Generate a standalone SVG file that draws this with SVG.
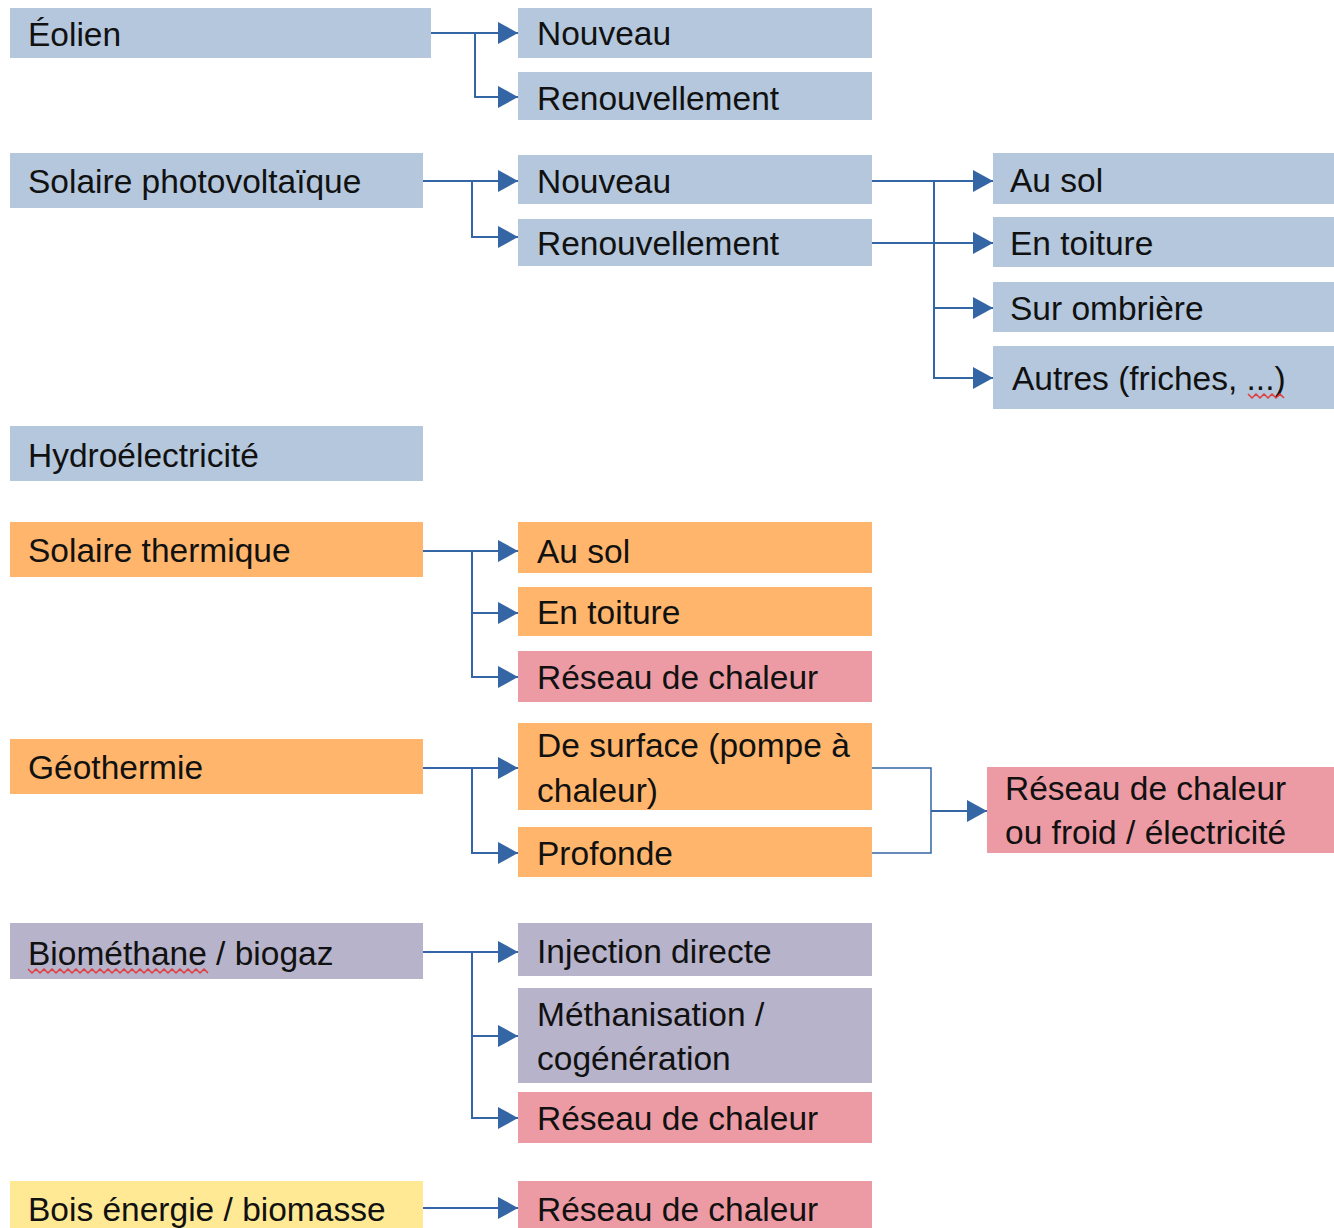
<svg xmlns="http://www.w3.org/2000/svg" width="1334" height="1228" viewBox="0 0 1334 1228">
<style>
text{font-family:"Liberation Sans",Arial,sans-serif;font-size:33.5px;fill:#111}
.b{fill:#b4c7dc}.o{fill:#ffb66c}.p{fill:#ec9ba4}.v{fill:#b7b3ca}.y{fill:#ffe994}
.c{fill:none;stroke:#3465a4;stroke-width:2}
.sq{fill:none;stroke:#e03c3c;stroke-width:1.5}
</style>
<defs>
<marker id="ar" markerUnits="userSpaceOnUse" markerWidth="20" markerHeight="22" refX="20" refY="11" orient="auto">
<path d="M0,0 L20,11 L0,22 z" fill="#3465a4"/>
</marker>
</defs>
<rect width="1334" height="1228" fill="#fff"/>
<g id="connectors">
<path class="c" d="M431,33 H518" marker-end="url(#ar)"/>
<path class="c" d="M475,33 V97 H518" marker-end="url(#ar)"/>
<path class="c" d="M423,181 H518" marker-end="url(#ar)"/>
<path class="c" d="M472,181 V237 H518" marker-end="url(#ar)"/>
<path class="c" d="M872,181 H993" marker-end="url(#ar)"/>
<path class="c" d="M872,243 H993" marker-end="url(#ar)"/>
<path class="c" d="M934,181 V378 H993" marker-end="url(#ar)"/>
<path class="c" d="M934,308 H993" marker-end="url(#ar)"/>
<path class="c" d="M423,551 H518" marker-end="url(#ar)"/>
<path class="c" d="M472,551 V677 H518" marker-end="url(#ar)"/>
<path class="c" d="M472,613 H518" marker-end="url(#ar)"/>
<path class="c" d="M423,768 H518" marker-end="url(#ar)"/>
<path class="c" d="M472,768 V853 H518" marker-end="url(#ar)"/>
<path class="c" d="M872,768 H931 V853 H872" style="stroke-width:1.5"/>
<path class="c" d="M931,811 H987" marker-end="url(#ar)"/>
<path class="c" d="M423,952 H518" marker-end="url(#ar)"/>
<path class="c" d="M472,952 V1118 H518" marker-end="url(#ar)"/>
<path class="c" d="M472,1036 H518" marker-end="url(#ar)"/>
<path class="c" d="M423,1208 H518" marker-end="url(#ar)"/>
</g>
<g id="eolien"><rect class="b" x="10" y="8" width="421" height="50"/><text x="28" y="46">Éolien</text></g>
<g id="eolien-nouveau"><rect class="b" x="518" y="8" width="354" height="50"/><text x="537" y="45">Nouveau</text></g>
<g id="eolien-renouvellement"><rect class="b" x="518" y="72" width="354" height="48"/><text x="537" y="110">Renouvellement</text></g>
<g id="pv"><rect class="b" x="10" y="153" width="413" height="55"/><text x="28" y="193">Solaire photovoltaïque</text></g>
<g id="pv-nouveau"><rect class="b" x="518" y="155" width="354" height="49"/><text x="537" y="193">Nouveau</text></g>
<g id="pv-renouvellement"><rect class="b" x="518" y="219" width="354" height="47"/><text x="537" y="255">Renouvellement</text></g>
<g id="pv-sol"><rect class="b" x="993" y="153" width="341" height="51"/><text x="1010" y="192">Au sol</text></g>
<g id="pv-toiture"><rect class="b" x="993" y="217" width="341" height="50"/><text x="1010" y="255">En toiture</text></g>
<g id="pv-ombriere"><rect class="b" x="993" y="282" width="341" height="50"/><text x="1010" y="320">Sur ombrière</text></g>
<g id="pv-autres"><rect class="b" x="993" y="346" width="341" height="63"/><text x="1012" y="390">Autres (friches, ...)</text><path class="sq" d="M1248,394 l4,4 l4,-4 l4,4 l4,-4 l4,4 l4,-4 l4,4 l4,-4 l4,4"/></g>
<g id="hydro"><rect class="b" x="10" y="426" width="413" height="55"/><text x="28" y="467">Hydroélectricité</text></g>
<g id="st"><rect class="o" x="10" y="522" width="413" height="55"/><text x="28" y="562">Solaire thermique</text></g>
<g id="st-sol"><rect class="o" x="518" y="522" width="354" height="51"/><text x="537" y="563">Au sol</text></g>
<g id="st-toiture"><rect class="o" x="518" y="587" width="354" height="49"/><text x="537" y="624">En toiture</text></g>
<g id="st-reseau"><rect class="p" x="518" y="651" width="354" height="51"/><text x="537" y="689">Réseau de chaleur</text></g>
<g id="geo"><rect class="o" x="10" y="739" width="413" height="55"/><text x="28" y="779">Géothermie</text></g>
<g id="geo-surface"><rect class="o" x="518" y="723" width="354" height="87"/><text x="537" y="757">De surface (pompe à</text><text x="537" y="802">chaleur)</text></g>
<g id="geo-profonde"><rect class="o" x="518" y="827" width="354" height="50"/><text x="537" y="865">Profonde</text></g>
<g id="geo-reseau"><rect class="p" x="987" y="767" width="347" height="86"/><text x="1005" y="800">Réseau de chaleur</text><text x="1005" y="844">ou froid / électricité</text></g>
<g id="bio"><rect class="v" x="10" y="923" width="413" height="56"/><text x="28" y="965">Biométhane / biogaz</text><path class="sq" d="M28,969 l4,4 l4,-4 l4,4 l4,-4 l4,4 l4,-4 l4,4 l4,-4 l4,4 l4,-4 l4,4 l4,-4 l4,4 l4,-4 l4,4 l4,-4 l4,4 l4,-4 l4,4 l4,-4 l4,4 l4,-4 l4,4 l4,-4 l4,4 l4,-4 l4,4 l4,-4 l4,4 l4,-4 l4,4 l4,-4 l4,4 l4,-4 l4,4 l4,-4 l4,4 l4,-4 l4,4 l4,-4 l4,4 l4,-4 l4,4 l4,-4 l4,4"/></g>
<g id="bio-injection"><rect class="v" x="518" y="923" width="354" height="53"/><text x="537" y="963">Injection directe</text></g>
<g id="bio-methanisation"><rect class="v" x="518" y="988" width="354" height="95"/><text x="537" y="1026">Méthanisation /</text><text x="537" y="1070">cogénération</text></g>
<g id="bio-reseau"><rect class="p" x="518" y="1092" width="354" height="51"/><text x="537" y="1130">Réseau de chaleur</text></g>
<g id="bois"><rect class="y" x="10" y="1181" width="413" height="47"/><text x="28" y="1221">Bois énergie / biomasse</text></g>
<g id="bois-reseau"><rect class="p" x="518" y="1181" width="354" height="47"/><text x="537" y="1221">Réseau de chaleur</text></g>
</svg>
